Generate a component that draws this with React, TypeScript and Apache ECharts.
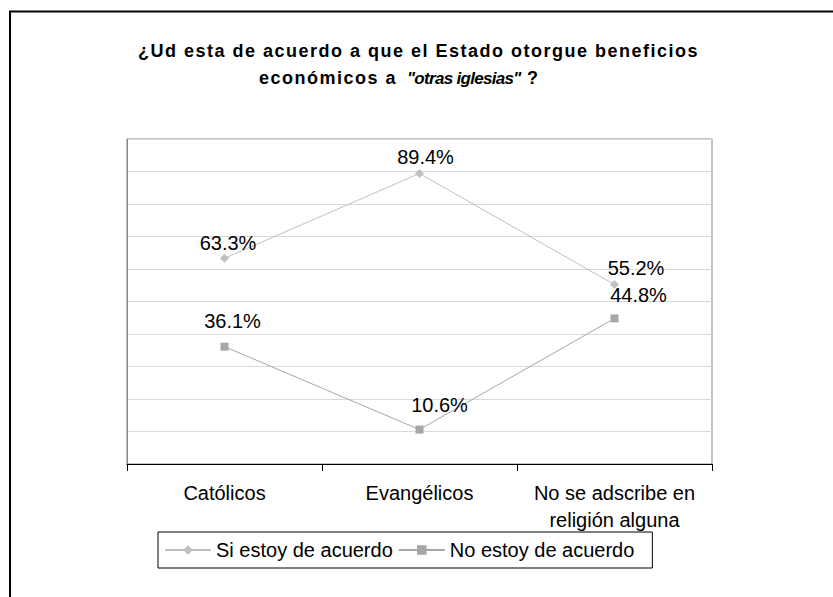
import React, { useEffect, useRef } from "react";
import * as echarts from "echarts";

const categories = ["Católicos", "Evangélicos", "No se adscribe en\nreligión alguna"];
const seriesNames = ["Si estoy de acuerdo", "No estoy de acuerdo"];
const siValues = [63.3, 89.4, 55.2];
const noValues = [36.1, 10.6, 44.8];
const yTicks = { min: 0, max: 100, interval: 10 };

const titleLine1 = "¿Ud esta de acuerdo a que el Estado otorgue beneficios";
const titleLine2a = "económicos a";
const titleLine2b = '"otras iglesias"';
const titleLine2c = "?";

// label nudges (styling only)
const siNudges = [[3.5, -15], [6, -16], [21.5, -17]];
const noNudges = [[8, -26], [20, -25], [24, -23]];

const FONT = '"Liberation Sans", Arial, sans-serif';

export default function App() {
  const ref = useRef<HTMLDivElement>(null);
  useEffect(() => {
    if (!ref.current) return;
    const chart = echarts.init(ref.current, undefined, { renderer: "svg" });
    const lbl = (nudges: number[][]) => (v: number, i: number) => ({
      value: v,
      label: { offset: nudges[i] },
    });
    const titleStyle = (text: string, size: number, italic = false) => ({
      text,
      fontSize: size,
      fontWeight: "bold",
      fontStyle: italic ? "italic" : "normal",
      fontFamily: FONT,
      fill: "#000",
      align: "left",
      verticalAlign: "middle",
    });
    chart.setOption({
      animation: false,
      backgroundColor: "#fff",
      textStyle: { fontFamily: FONT },
      grid: {
        left: 127,
        right: 121,
        top: 139,
        bottom: 133,
        show: true,
        borderColor: "#868686",
        borderWidth: 1,
        containLabel: false,
      },
      xAxis: {
        type: "category",
        data: categories,
        boundaryGap: true,
        axisLine: { show: true, lineStyle: { color: "#000", width: 1 } },
        axisTick: { show: true, length: 7, alignWithLabel: false, interval: 0, lineStyle: { color: "#000" } },
        axisLabel: { interval: 0, fontSize: 20, lineHeight: 27, margin: 15, color: "#000", fontFamily: FONT },
        splitLine: { show: false },
      },
      yAxis: {
        type: "value",
        min: yTicks.min,
        max: yTicks.max,
        interval: yTicks.interval,
        axisLabel: { show: false },
        axisTick: { show: false },
        axisLine: { show: true, lineStyle: { color: "#868686" } },
        splitLine: { show: true, lineStyle: { color: "#d9d9d9", width: 1 } },
      },
      legend: {
        data: seriesNames,
        left: 158,
        top: 532,
        orient: "horizontal",
        itemGap: 5,
        itemWidth: 46,
        itemHeight: 12,
        padding: [8, 18, 8, 6],
        borderColor: "#000",
        borderWidth: 1,
        textStyle: { fontSize: 20, color: "#000", fontFamily: FONT },
      },
      series: [
        {
          name: seriesNames[0],
          type: "line",
          data: siValues.map(lbl(siNudges)),
          symbol: "diamond",
          symbolSize: 9,
          itemStyle: { color: "#c0c0c0" },
          lineStyle: { color: "#c0c0c0", width: 1 },
          label: {
            show: true,
            position: "inside",
            fontSize: 20,
            color: "#000",
            fontFamily: FONT,
            formatter: (p: any) => Number(p.value).toFixed(1) + "%",
          },
          z: 3,
        },
        {
          name: seriesNames[1],
          type: "line",
          data: noValues.map(lbl(noNudges)),
          symbol: "rect",
          symbolSize: 8,
          itemStyle: { color: "#a6a6a6" },
          lineStyle: { color: "#a6a6a6", width: 1 },
          label: {
            show: true,
            position: "inside",
            fontSize: 20,
            color: "#000",
            fontFamily: FONT,
            formatter: (p: any) => Number(p.value).toFixed(1) + "%",
          },
          z: 3,
        },
      ],
      graphic: [
        {
          type: "polyline",
          silent: true,
          shape: { points: [[10, 1000], [10, 11.5], [1000, 11.5]] },
          style: { fill: "none", stroke: "#000", lineWidth: 2 },
          z: 100,
        },
        { type: "text", x: 138, y: 51, style: titleStyle(titleLine1, 18) },
        { type: "text", x: 259, y: 78, style: titleStyle(titleLine2a, 18) },
        { type: "text", x: 407, y: 78, style: titleStyle(titleLine2b, 17, true) },
        { type: "text", x: 527, y: 78, style: titleStyle(titleLine2c, 18) },
      ],
    });
    const spacing = () => {
      const el = ref.current;
      if (!el) return;
      el.querySelectorAll("text").forEach((t) => {
        const s = t.textContent;
        if (s === titleLine1 || s === titleLine2a) (t as any).style.letterSpacing = "1.5px";
        else if (s === titleLine2b) (t as any).style.letterSpacing = "-0.7px";
      });
    };
    spacing();
    chart.on("finished", spacing);
    const t1 = setTimeout(spacing, 0);
    const t2 = setTimeout(spacing, 200);
    return () => {
      clearTimeout(t1);
      clearTimeout(t2);
      chart.dispose();
    };
  }, []);
  return (
    <div
      ref={ref}
      style={{ position: "fixed", left: 0, top: 0, width: 833, height: 597, background: "#fff" }}
    />
  );
}
